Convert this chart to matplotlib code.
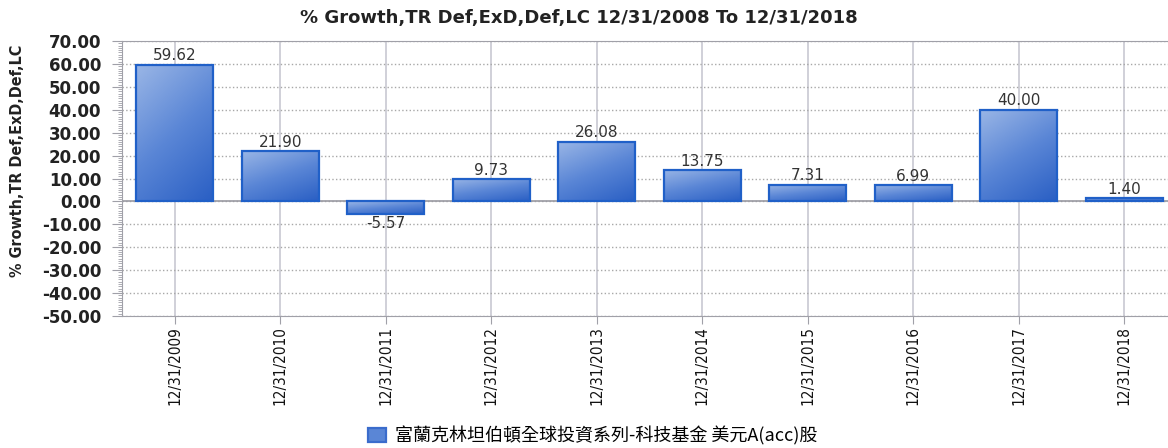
import numpy as np
import matplotlib.pyplot as plt
from matplotlib.colors import LinearSegmentedColormap
from matplotlib.ticker import MultipleLocator

plt.rcParams['font.family'] = ['DejaVu Sans', 'Noto Sans CJK TC']

# data
years = ["12/31/2009", "12/31/2010", "12/31/2011", "12/31/2012", "12/31/2013",
         "12/31/2014", "12/31/2015", "12/31/2016", "12/31/2017", "12/31/2018"]
growth = [59.62, 21.90, -5.57, 9.73, 26.08, 13.75, 7.31, 6.99, 40.00, 1.40]
series_name = "富蘭克林坦伯頓全球投資系列-科技基金 美元A(acc)股"
title = "% Growth,TR Def,ExD,Def,LC 12/31/2008 To 12/31/2018"
ylabel = "% Growth,TR Def,ExD,Def,LC"

narrow = ["Liberation Sans Narrow", "DejaVu Sans"]

W, H = 1168, 448
fig = plt.figure(figsize=(W / 100, H / 100), dpi=100)
ax = fig.add_axes([122 / W, 1 - 316 / H, 1055 / W, 275 / H])

x = np.arange(len(years))
bars = ax.bar(x, growth, width=0.73, color="none", edgecolor="#2060c8",
              linewidth=1.6, zorder=4, label=series_name)

# diagonal gradient fill, light top-left to dark bottom-right
cmap = LinearSegmentedColormap.from_list("blu", ["#9ab6e6", "#5a86d6", "#2a5fc4"])
gx, gy = np.meshgrid(np.linspace(0, 1, 64), np.linspace(0, 1, 64))
grad = 0.35 * gx + 0.65 * gy
for b in bars:
    x0, y0 = b.get_x(), b.get_y()
    w, h = b.get_width(), b.get_height()
    ylo, yhi = min(y0, y0 + h), max(y0, y0 + h)
    ax.imshow(grad, cmap=cmap, extent=(x0, x0 + w, ylo, yhi), origin="upper",
              aspect="auto", zorder=3, interpolation="bilinear")

for xi, v in zip(x, growth):
    if v >= 0:
        ax.text(xi, v + 0.6, f"{v:.2f}", ha="center", va="bottom", fontsize=11,
                color="#333333", zorder=5)
    else:
        ax.text(xi, v - 0.6, f"{v:.2f}", ha="center", va="top", fontsize=11,
                color="#333333", zorder=5)

ax.set_xlim(-0.5, len(years) - 0.5)
ax.set_ylim(-50, 70)
ax.yaxis.set_minor_locator(MultipleLocator(1))
ax.set_yticks(np.arange(-50, 71, 10))
ax.set_yticklabels([f"{t:.2f}" for t in np.arange(-50, 71, 10)], fontweight="bold",
                   fontsize=12, color="#222222")
ax.set_xticks(x)
ax.set_xticklabels(years, rotation=90, fontsize=11, fontstretch="condensed",
                   family=narrow, color="#111111")

ax.tick_params(axis="y", which="major", length=7, color="#a0a0a8", pad=8)
ax.tick_params(axis="y", which="minor", length=3, color="#a0a0a8")
ax.tick_params(axis="x", length=6, color="#a0a0a8", pad=1)

ax.grid(axis="y", which="major", linestyle=":", color="#a8a8a8", linewidth=1, zorder=0)
ax.grid(axis="x", linestyle="-", color="#c8c8d2", linewidth=1.2, zorder=0)
ax.axhline(0, color="#9a9aa2", linewidth=1.2, zorder=2)
ax.set_axisbelow(True)
for s in ax.spines.values():
    s.set_color("#a0a0a8")

fig.text(18 / W, 1 - 161 / H, ylabel, rotation=90, ha="center", va="center",
         fontsize=11.5, family=narrow, fontstretch="condensed", fontweight="bold",
         color="#222222")
fig.text(579 / W, 1 - 18 / H, title, ha="center", va="center", fontsize=13,
         fontweight="bold", color="#222222")

fig.legend(handles=[bars], labels=[series_name], loc="center",
           bbox_to_anchor=(593 / W, 1 - 436 / H), frameon=False,
           borderpad=0.1,
           prop={"family": ["Noto Sans CJK TC", "DejaVu Sans"], "size": 13},
           handlelength=1.0, handleheight=0.8, handletextpad=0.5)
leg_patch = fig.legends[0].get_patches()[0]
leg_patch.set_facecolor("#5a86d6")
leg_patch.set_edgecolor("#3a6ccc")

fig.savefig("out.png", dpi=100)
